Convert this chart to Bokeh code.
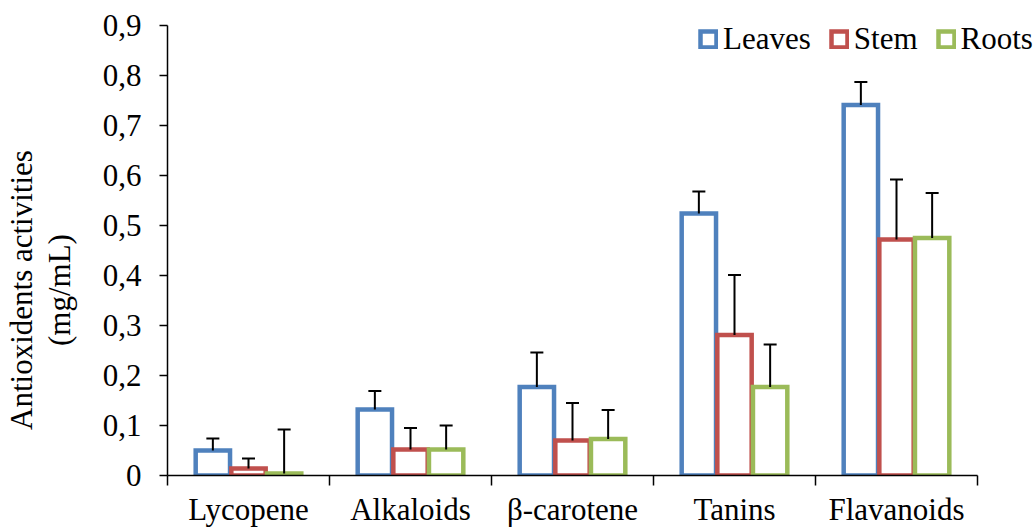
from bokeh.plotting import figure
from bokeh.models import (Range1d, FixedTicker, ColumnDataSource, Whisker, TeeHead,
                          Legend, LegendItem)
from bokeh.layouts import row
from bokeh.core.properties import value
from bokeh.embed import file_html
from bokeh.resources import INLINE
import numpy as np

categories = ["Lycopene", "Alkaloids", "β-carotene", "Tanins", "Flavanoids"]
series_names = ["Leaves", "Stem", "Roots"]
leaves = [0.050, 0.132, 0.177, 0.524, 0.741]
stem = [0.014, 0.052, 0.070, 0.281, 0.472]
roots = [0.004, 0.052, 0.073, 0.177, 0.475]
leaves_err = [0.024, 0.037, 0.069, 0.044, 0.046]
stem_err = [0.020, 0.043, 0.075, 0.120, 0.120]
roots_err = [0.088, 0.048, 0.058, 0.085, 0.090]
y_tick_values = [0, 0.1, 0.2, 0.3, 0.4, 0.5, 0.6, 0.7, 0.8, 0.9]
y_tick_labels = ["0", "0,1", "0,2", "0,3", "0,4", "0,5", "0,6", "0,7", "0,8", "0,9"]
y_title = "Antioxidents activities\n(mg/mL)"
colors = ["#4F81BD", "#C0504D", "#9BBB59"]

FONT = "Liberation Serif"
FS = "31px"
H = 529
LW = 90          # width of the side panel holding the y title
Y_MAX = 0.9
FRAME_TOP = 10   # frame starts above the axis top so the legend is not clipped
PX_PER_UNIT = 452 / Y_MAX

# ---------- side panel with the y-axis title ----------
side = figure(width=LW, height=H, output_backend="svg", toolbar_location=None,
              x_range=Range1d(0, LW), y_range=Range1d(0, H),
              min_border=0)
side.axis.visible = False
side.grid.visible = False
side.outline_line_color = None
side.text(x=[40], y=[H - 318], text=[y_title], angle=np.pi / 2,
          text_align="center", text_baseline="middle",
          text_font=value(FONT), text_font_size=FS, text_color="black",
          text_line_height=1.06)

# ---------- main chart ----------
p = figure(width=1035 - LW, height=H, output_backend="svg", toolbar_location=None,
           x_range=Range1d(0, 868 / 162),
           y_range=Range1d(0, (477 - FRAME_TOP) / PX_PER_UNIT),
           min_border_left=167 - LW, min_border_right=0, min_border_top=FRAME_TOP,
           min_border_bottom=52)
p.outline_line_color = None
p.xgrid.visible = False
p.ygrid.visible = False
p.background_fill_color = "white"

centers = np.arange(len(categories)) + 0.5
offsets = [-0.22, 0.0, 0.22]
all_vals = [leaves, stem, roots]
all_errs = [leaves_err, stem_err, roots_err]

items = []
for name, vals, errs, off, col in zip(series_names, all_vals, all_errs, offsets, colors):
    xs = centers + off
    src = ColumnDataSource(dict(x=xs, top=vals, lo=vals,
                                hi=np.array(vals) + np.array(errs)))
    r = p.vbar(x="x", top="top", bottom=0, width=0.212, source=src,
               fill_color="white", line_color=col, line_width=4.5,
               line_join="miter")
    items.append((name, r, src))

for name, r, src in items:
    w = Whisker(base="x", lower="lo", upper="hi", source=src,
                lower_head=None,
                upper_head=TeeHead(size=13, line_width=2, line_color="black"),
                line_width=2, line_color="black", level="overlay")
    p.add_layout(w)

# x axis
xa = p.xaxis[0]
xa.ticker = FixedTicker(ticks=list(centers), minor_ticks=list(range(len(categories) + 1)))
xa.major_label_overrides = {float(c): lab for c, lab in zip(centers, categories)}
xa.bounds = (0, len(categories))
xa.major_tick_line_color = None
xa.major_tick_out = 0
xa.major_tick_in = 0
xa.minor_tick_out = 10
xa.minor_tick_in = 0
xa.minor_tick_line_color = "black"
xa.minor_tick_line_width = 1.5
xa.axis_line_color = "black"
xa.axis_line_width = 1.5
xa.major_label_text_font = FONT
xa.major_label_text_font_size = FS
xa.major_label_text_color = "black"
xa.major_label_standoff = 6

# y axis
ya = p.yaxis[0]
ya.ticker = FixedTicker(ticks=y_tick_values)
ya.major_label_overrides = {v: lab for v, lab in zip(y_tick_values, y_tick_labels)}
ya.bounds = (0, Y_MAX)
ya.major_tick_out = 8
ya.major_tick_in = 0
ya.major_tick_line_width = 1.5
ya.major_tick_line_color = "black"
ya.minor_tick_line_color = None
ya.axis_line_color = "black"
ya.axis_line_width = 1.5
ya.major_label_text_font = FONT
ya.major_label_text_font_size = FS
ya.major_label_text_color = "black"
ya.major_label_standoff = 18

legend = Legend(items=[LegendItem(label=n, renderers=[r]) for n, r, s in items],
                orientation="horizontal", location=(531, 418),
                label_text_font=FONT, label_text_font_size=FS,
                label_text_color="black",
                glyph_width=20, glyph_height=20, label_standoff=5, spacing=18,
                padding=1, margin=0, border_line_color=None,
                background_fill_alpha=0)
p.add_layout(legend)

layout = row(side, p, spacing=0)
open("out.html", "w").write(file_html(layout, INLINE))
